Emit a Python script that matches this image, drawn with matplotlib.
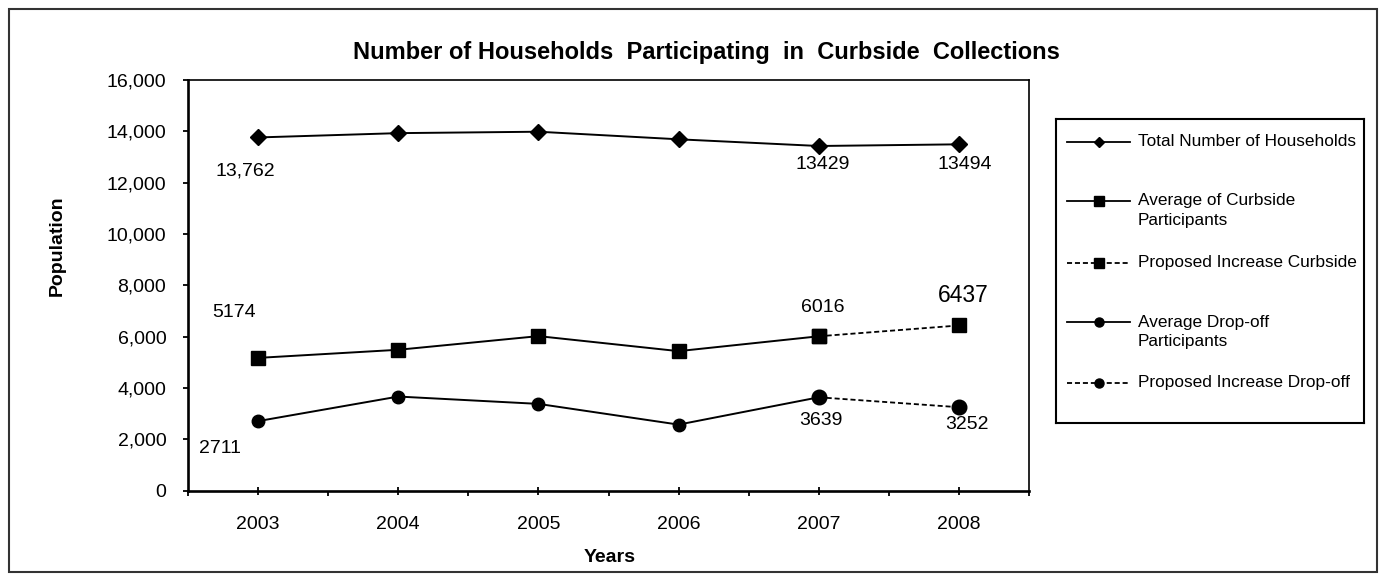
import matplotlib
matplotlib.use("Agg")
import matplotlib.pyplot as plt
from matplotlib.ticker import MultipleLocator, StrMethodFormatter
from matplotlib.patches import Rectangle

plt.rcParams["font.family"] = ["Liberation Sans", "DejaVu Sans"]

years = [2003, 2004, 2005, 2006, 2007, 2008]
total_households = [13762, 13930, 13985, 13690, 13429, 13494]
curbside_years = [2003, 2004, 2005, 2006, 2007]
curbside = [5174, 5490, 6022, 5437, 6016]
curbside_prop_years = [2007, 2008]
curbside_prop = [6016, 6437]
dropoff_years = [2003, 2004, 2005, 2006, 2007]
dropoff = [2711, 3668, 3382, 2575, 3639]
dropoff_prop_years = [2007, 2008]
dropoff_prop = [3639, 3252]

legend_labels = ["Total Number of Households",
                 "Average of Curbside\nParticipants",
                 "Proposed Increase Curbside",
                 "Average Drop-off\nParticipants",
                 "Proposed Increase Drop-off"]

# (year, value, text) for the point labels
point_labels = [(2003, 13762, "13,762"), (2007, 13429, "13429"), (2008, 13494, "13494"),
                (2003, 5174, "5174"), (2007, 6016, "6016"), (2008, 6437, "6437"),
                (2003, 2711, "2711"), (2007, 3639, "3639"), (2008, 3252, "3252")]

W, H = 1388, 581
fig = plt.figure(figsize=(W / 100, H / 100), dpi=100)

def px(x0, y0, x1, y1):
    return [x0 / W, 1 - y1 / H, (x1 - x0) / W, (y1 - y0) / H]

ax = fig.add_axes(px(188, 80, 1029, 490.7))

dash = (0, (2.8, 1.6))
styles = [
    dict(marker="D", ms=8, ls="-", lw=1.4),
    dict(marker="s", ms=10, ls="-", lw=1.4),
    dict(marker="s", ms=10.5, ls=dash, lw=1.3),
    dict(marker="o", ms=9, ls="-", lw=1.4),
    dict(marker="o", ms=10.5, ls=dash, lw=1.3),
]
series = [(years, total_households), (curbside_years, curbside),
          (curbside_prop_years, curbside_prop), (dropoff_years, dropoff),
          (dropoff_prop_years, dropoff_prop)]
# dashed ones first so the solid lines sit on top
for i in [2, 4, 0, 1, 3]:
    xs, ys = series[i]
    ax.plot(xs, ys, color="black", **styles[i])

ax.set_xlim(2002.5, 2008.5)
ax.set_ylim(0, 16000)
ax.xaxis.set_major_locator(MultipleLocator(1))
ax.xaxis.set_minor_locator(MultipleLocator(0.5))
ax.yaxis.set_major_locator(MultipleLocator(2000))
ax.yaxis.set_major_formatter(StrMethodFormatter("{x:,.0f}"))
ax.tick_params(axis="x", which="major", direction="inout", length=6, width=1.3,
               labelsize=14, pad=15)
ax.tick_params(axis="x", which="minor", direction="out", length=3.5, width=1.3)
ax.tick_params(axis="y", direction="out", length=3.6, width=1.3, labelsize=14, pad=12)
for s in ["left", "bottom"]:
    ax.spines[s].set_linewidth(1.9)
for s in ["top", "right"]:
    ax.spines[s].set_linewidth(1.2)

offsets = {"13,762": (-9.4, -24), "13429": (2.9, -13), "13494": (4.3, -14.4),
           "5174": (-17.3, 33), "6016": (2.9, 21), "6437": (2.9, 21.6),
           "2711": (-27.4, -20), "3639": (1.4, -16.6), "3252": (5.8, -12.2)}
for yr, val, txt in point_labels:
    size = 16.5 if txt == "6437" else 14
    ax.annotate(txt, (yr, val), xytext=offsets[txt], textcoords="offset points",
                ha="center", va="center", fontsize=size)

fig.text(706 / W, 1 - 59 / H,
         "Number of Households  Participating  in  Curbside  Collections",
         ha="center", va="baseline", fontsize=17, fontweight="bold")
fig.text(610 / W, 1 - 561.7 / H, "Years", ha="center", va="baseline",
         fontsize=14, fontweight="bold")
fig.text(57 / W, 1 - 246 / H, "Population", ha="center", va="center",
         rotation=90, fontsize=14, fontweight="bold")

# legend box drawn by hand to match the spacing
lax = fig.add_axes(px(1056, 119, 1364, 423))
lax.set_xlim(0, 308)
lax.set_ylim(304, 0)
lax.set_xticks([])
lax.set_yticks([])
for s in lax.spines.values():
    s.set_linewidth(1.5)
leg_y = [23, 82, 144, 203, 264]
leg_ms = [5, 6.5, 6.5, 6.5, 6.5]
for i, lab in enumerate(legend_labels):
    st = styles[i]
    lax.plot([11, 74], [leg_y[i], leg_y[i]], color="black", ls=st["ls"], lw=1.3)
    lax.plot([42.5], [leg_y[i]], color="black", marker=st["marker"], ms=leg_ms[i])
    for j, line in enumerate(lab.split("\n")):
        lax.text(82, leg_y[i] + j * 19.5, line, ha="left", va="center", fontsize=12.4)

fig.patches.append(Rectangle((9 / W, 1 - 572 / H), 1368 / W, 563 / H,
                             transform=fig.transFigure, fill=False,
                             edgecolor="#333333", lw=1.5))

fig.savefig("out.png", dpi=100)
